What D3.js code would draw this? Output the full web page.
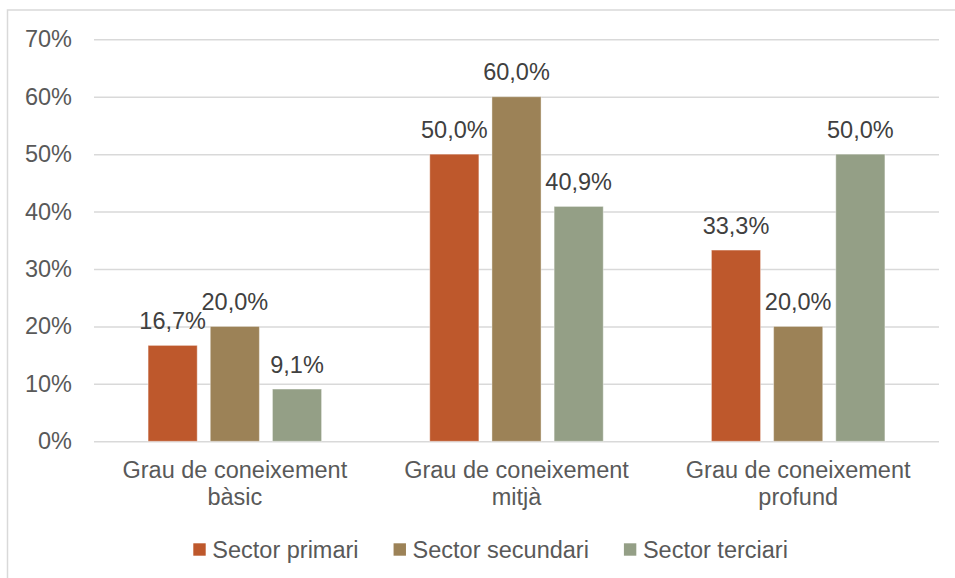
<!DOCTYPE html>
<html>
<head>
<meta charset="utf-8">
<script src="https://cdn.jsdelivr.net/npm/d3@7"></script>
<style>
  body { margin: 0; background: #fff; }
  svg { display: block; font-family: 'Liberation Sans', Arial, sans-serif; }
</style>
</head>
<body>
<div id="chart"></div>
<script>
// data
var categories = ['Grau de coneixement bàsic', 'Grau de coneixement mitjà', 'Grau de coneixement profund']
var categoryLines = [
  ['Grau de coneixement', 'bàsic'],
  ['Grau de coneixement', 'mitjà'],
  ['Grau de coneixement', 'profund']
]
var seriesNames = ['Sector primari', 'Sector secundari', 'Sector terciari']
var primari = [16.7, 50.0, 33.3]
var secundari = [20.0, 60.0, 20.0]
var terciari = [9.1, 40.9, 50.0]
var yTicks = [0, 10, 20, 30, 40, 50, 60, 70]
var colors = ['#BE582C', '#9C8257', '#949F86']

var width = 955
var height = 578
var margin = { top: 39.3, left: 94, right: 16, bottom: 136.7 }

var svg = d3.select('#chart')
  .append('svg')
  .attr('width', width)
  .attr('height', height)

// outer chart border (runs past right/bottom edge)
svg.append('rect')
  .attr('x', 7.5)
  .attr('y', 10)
  .attr('width', 1000)
  .attr('height', 1000)
  .attr('fill', 'none')
  .attr('stroke', '#d9d9d9')
  .attr('stroke-width', 1.5)

var xPositionScale = d3.scaleBand()
  .domain(categories)
  .range([margin.left, width - margin.right])
  .paddingInner(0)
  .paddingOuter(0)

var xInnerScale = d3.scaleBand()
  .domain(seriesNames)
  .range([0, xPositionScale.bandwidth()])
  .paddingInner(0.21)
  .paddingOuter(0.87)

var yPositionScale = d3.scaleLinear()
  .domain([0, 70])
  .range([height - margin.bottom, margin.top])

// gridlines
var yAxis = d3.axisLeft(yPositionScale)
  .tickValues(yTicks)
  .tickSize(-(width - margin.left - margin.right))
  .tickPadding(22)
  .tickFormat(d => d + '%')

svg.append('g')
  .attr('class', 'axis y-axis')
  .attr('transform', 'translate(' + margin.left + ',0)')
  .call(yAxis)
  .call(g => g.select('.domain').remove())
  .call(g => g.selectAll('line').attr('stroke', '#d9d9d9').attr('stroke-width', 1.5))
  .call(g => g.selectAll('text')
    .attr('fill', '#595959')
    .attr('font-size', '23.5px')
    .attr('font-family', "'Liberation Sans', Arial, sans-serif"))

var rows = categories.map((c, i) => ({
  category: c,
  values: [primari[i], secundari[i], terciari[i]]
}))

var groups = svg.selectAll('.group')
  .data(rows)
  .enter()
  .append('g')
  .attr('class', 'group')
  .attr('transform', d => 'translate(' + xPositionScale(d.category) + ',0)')

groups.each(function(d) {
  var g = d3.select(this)
  var bars = d.values.map((v, j) => ({ name: seriesNames[j], value: v, color: colors[j] }))

  g.selectAll('rect')
    .data(bars)
    .enter()
    .append('rect')
    .attr('x', b => xInnerScale(b.name))
    .attr('y', b => yPositionScale(b.value))
    .attr('width', xInnerScale.bandwidth())
    .attr('height', b => yPositionScale(0) - yPositionScale(b.value))
    .attr('fill', b => b.color)
    .attr('stroke', '#ffffff')
    .attr('stroke-opacity', 0.4)
    .attr('stroke-width', 1)

  g.selectAll('.label')
    .data(bars)
    .enter()
    .append('text')
    .attr('class', 'label')
    .text(b => b.value.toFixed(1).replace('.', ',') + '%')
    .attr('x', b => xInnerScale(b.name) + xInnerScale.bandwidth() / 2)
    .attr('y', b => yPositionScale(b.value))
    .attr('dy', -16.5)
    .attr('text-anchor', 'middle')
    .attr('font-size', '23.5px')
    .attr('fill', '#404040')
})

// category labels, two lines each
categoryLines.forEach((lines, i) => {
  var cx = xPositionScale(categories[i]) + xPositionScale.bandwidth() / 2
  lines.forEach((line, k) => {
    svg.append('text')
      .text(line)
      .attr('x', cx)
      .attr('y', 478 + k * 27)
      .attr('text-anchor', 'middle')
      .attr('font-size', '23.5px')
      .attr('fill', '#595959')
  })
})

// legend
var legend = svg.append('g').attr('class', 'legend')
var lx = 193.3
seriesNames.forEach((name, j) => {
  legend.append('rect')
    .attr('x', lx)
    .attr('y', 543.3)
    .attr('width', 12.4)
    .attr('height', 12.4)
    .attr('fill', colors[j])
  var t = legend.append('text')
    .text(name)
    .attr('x', lx + 19)
    .attr('y', 557.5)
    .attr('font-size', '23.5px')
    .attr('fill', '#595959')
  lx = lx + 19 + t.node().getComputedTextLength() + 35
})
</script>
</body>
</html>
